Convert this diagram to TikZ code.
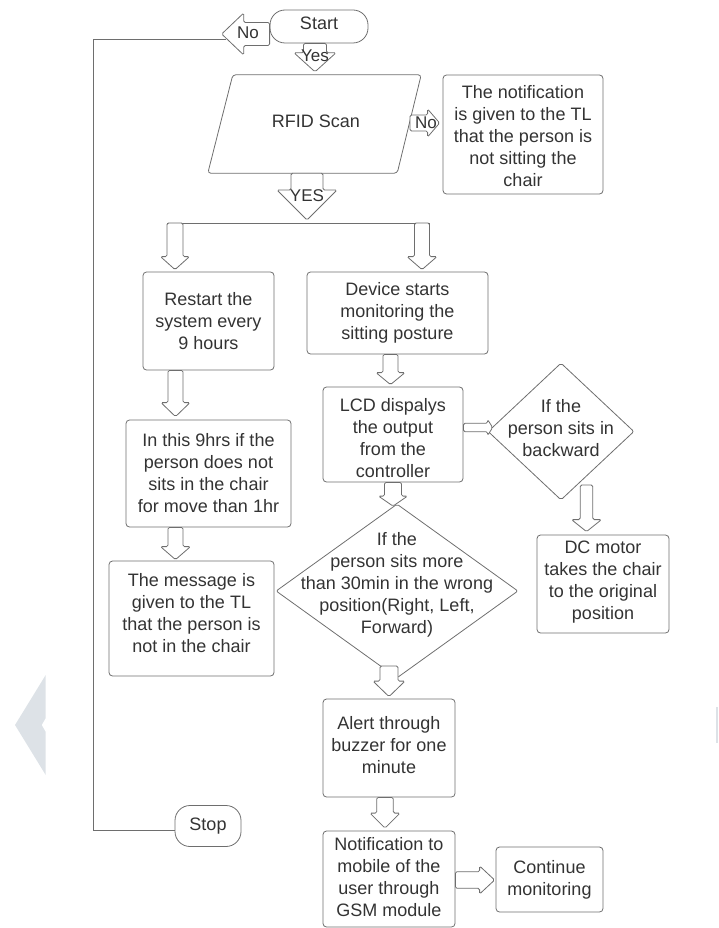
\documentclass[tikz,border=0pt]{standalone}
\usepackage{fontspec}
\setmainfont{Liberation Sans}
\usetikzlibrary{calc,shapes.geometric}
\definecolor{lineC}{HTML}{6E6E6E}
\definecolor{textC}{HTML}{333333}
\definecolor{wmC}{HTML}{DDE2E7}
% block arrow pointing down: x, from, to, body half width, head half width, head length, gap
\newcommand{\bdown}[7]{%
  \draw[blk] let \p1=(#2), \p2=(#3) in
  ({#1pt-#4pt},\y1) -- ({#1pt-#4pt},{\y2+(#7pt)+(#6pt)}) -- ({#1pt-#5pt},{\y2+(#7pt)+(#6pt)})
  -- ({#1pt},{\y2+(#7pt)}) -- ({#1pt+#5pt},{\y2+(#7pt)+(#6pt)}) -- ({#1pt+#4pt},{\y2+(#7pt)+(#6pt)})
  -- ({#1pt+#4pt},\y1) -- cycle;}
% block arrow pointing right: y, from, to, bhw, hhw, hl, gap
\newcommand{\bright}[7]{%
  \draw[blk] let \p1=(#2), \p2=(#3) in
  (\x1,{#1pt+#4pt}) -- ({\x2-(#7pt)-(#6pt)},{#1pt+#4pt}) -- ({\x2-(#7pt)-(#6pt)},{#1pt+#5pt})
  -- ({\x2-(#7pt)},{#1pt}) -- ({\x2-(#7pt)-(#6pt)},{#1pt-#5pt}) -- ({\x2-(#7pt)-(#6pt)},{#1pt-#4pt})
  -- (\x1,{#1pt-#4pt}) -- cycle;}
% block arrow pointing left
\newcommand{\bleft}[7]{%
  \draw[blk] let \p1=(#2), \p2=(#3) in
  (\x1,{#1pt+#4pt}) -- ({\x2+(#7pt)+(#6pt)},{#1pt+#4pt}) -- ({\x2+(#7pt)+(#6pt)},{#1pt+#5pt})
  -- ({\x2+(#7pt)},{#1pt}) -- ({\x2+(#7pt)+(#6pt)},{#1pt-#5pt}) -- ({\x2+(#7pt)+(#6pt)},{#1pt-#4pt})
  -- (\x1,{#1pt-#4pt}) -- cycle;}
\tikzset{
  box/.style={draw=lineC, line width=0.8pt, rounded corners=3.5pt, align=center, text=textC, inner sep=0pt},
  term/.style={draw=lineC, line width=0.8pt, rounded corners=15pt, text=textC, inner sep=0pt},
  blk/.style={draw=lineC, line width=0.8pt, fill=white, rounded corners=1.5pt},
  link/.style={draw=lineC, line width=0.8pt},
  txt/.style={text=textC, align=center, inner sep=0pt},
  lbl/.style={text=textC, inner sep=0pt, font=\fontsize{17}{20}\selectfont},
  dia/.style={diamond, draw=lineC, line width=0.8pt, inner sep=0pt, rounded corners=2pt},
}
\begin{document}
\begin{tikzpicture}[x=1pt, y=1pt, font=\fontsize{18}{22}\selectfont]
\useasboundingbox (0,0) rectangle (718,-928);
% background marks
\fill[wmC] (15,-725) -- (45.7,-675) -- (45.7,-718) -- (41.7,-725) -- (45.7,-732) -- (45.7,-775) -- cycle;
\fill[wmC] (716,-707) rectangle (718,-743);

% nodes
\node[term, minimum width=98, minimum height=33,
  label={[txt,yshift=3]center:Start}] (start) at (319,-26.5) {};
\node[term, minimum width=66, minimum height=41] (stop) at (208,-826) {Stop};
\node[txt, minimum width=213, minimum height=98,
  label={[txt,yshift=3,xshift=1.5]center:RFID Scan}] (rfid) at (314.5,-124) {};
\draw[link, rounded corners=3pt] ($(rfid.north west)+(25,0)$) -- (rfid.north east)
  -- ($(rfid.south east)+(-24,0)$) -- (rfid.south west) -- cycle;
\node[box, minimum width=160, minimum height=119,
  label={[txt,yshift=-2]center:{The notification\\is given to the TL\\that the person is\\not sitting the\\chair}}] (notif1) at (523,-134.5) {};
\node[box, minimum width=131, minimum height=98] (restart) at (208.5,-321)
  {Restart the\\system every\\9 hours};
\node[box, minimum width=181, minimum height=82] (device) at (397.5,-313)
  {Device starts\\monitoring the\\sitting posture};
\node[box, minimum width=140, minimum height=95,
  label={[txt,yshift=-4]center:{LCD dispalys\\the output\\from the\\controller}}] (lcd) at (393,-434.5) {};
\node[dia, minimum width=146, minimum height=137] (back) at (561,-431.5) {};
\node[txt] (backT) at (561,-428.5) {If the\\person sits in\\backward};
\node[box, minimum width=132, minimum height=98,
  label={[txt,yshift=2]center:{DC motor\\takes the chair\\to the original\\position}}] (dc) at (603,-584) {};
\node[box, minimum width=165, minimum height=107] (inthis) at (208.5,-473.5)
  {In this 9hrs if the\\person does not\\sits in the chair\\for move than 1hr};
\node[box, minimum width=165, minimum height=115,
  label={[txt,yshift=5]center:{The message is\\given to the TL\\that the person is\\not in the chair}}] (message) at (191.5,-618.5) {};
\node[dia, minimum width=242, minimum height=174] (wrong) at (397,-591) {};
\node[txt] (wrongT) at (397,-585) {If the\\person sits more\\than 30min in the wrong\\position(Right, Left,\\Forward)};
\node[box, minimum width=132, minimum height=98,
  label={[txt,yshift=3]center:{Alert through\\buzzer for one\\minute}}] (alert) at (389,-748) {};
\node[box, minimum width=132, minimum height=96,
  label={[txt,yshift=2]center:{Notification to\\mobile of the\\user through\\GSM module}}] (notif2) at (389,-879) {};
\node[box, minimum width=107, minimum height=65] (cont) at (549.5,-879.5)
  {Continue\\monitoring};

% helper coordinates
\coordinate (noTip) at (221.7,-34);
\coordinate (loopStart) at (226,-39);
\coordinate (loopTL) at (93,-39);
\coordinate (loopBL) at (93,-830);
\coordinate (splitL) at (167,-223);
\coordinate (splitM) at (307,-223);
\coordinate (splitR) at (429.5,-223);
\coordinate (rfidAr) at (410,-123);
\coordinate (backAr) at (586.5,-485);
\coordinate (wrongAr) at (389,-666);

% plain connectors
\draw[link] (loopStart) -- (loopTL) -- (loopBL) -- ($(stop.west)+(0,-4)$);
\draw[link] (splitL) -- (splitR);

% block arrows
\bleft{-34}{start.west}{noTip}{11.5}{21}{22}{0}
\bdown{315}{start.south}{rfid.north}{11.5}{21}{19}{3}
\bright{-123}{rfidAr}{notif1.west}{8}{14}{12}{3}
\bdown{307}{rfid.south}{splitM}{16}{30}{30}{3}
\bdown{175}{splitL}{restart.north}{8}{14.5}{13}{2}
\bdown{422}{splitR}{device.north}{7.5}{15}{13}{2}
\bdown{175.5}{restart.south}{inthis.north}{7.5}{14.5}{14}{3}
\bdown{175.5}{inthis.south}{message.north}{7.5}{15}{13}{1}
\bdown{390.5}{device.south}{lcd.north}{7.5}{14.5}{12}{2}
\bright{-427.5}{lcd.east}{back.west}{4.2}{8}{5}{-5}
\bdown{586.5}{backAr}{dc.north}{6.3}{15}{12}{3}
\bdown{393}{lcd.south}{wrong.north}{8.5}{14.5}{10}{-2.5}
\bdown{389}{wrongAr}{alert.north}{9}{16}{15.5}{2}
\bdown{385}{alert.south}{notif2.north}{8.3}{15}{15}{2.5}
\bright{-880}{notif2.east}{cont.west}{8.3}{14}{15}{1}

% arrow labels
\node[lbl] (lNo1) at (248,-33) {No};
\node[lbl] (lYes) at (315,-56) {Yes};
\node[lbl] (lNo2) at (426,-123) {No};
\node[lbl] (lYES) at (307,-196) {YES};
\end{tikzpicture}
\end{document}
